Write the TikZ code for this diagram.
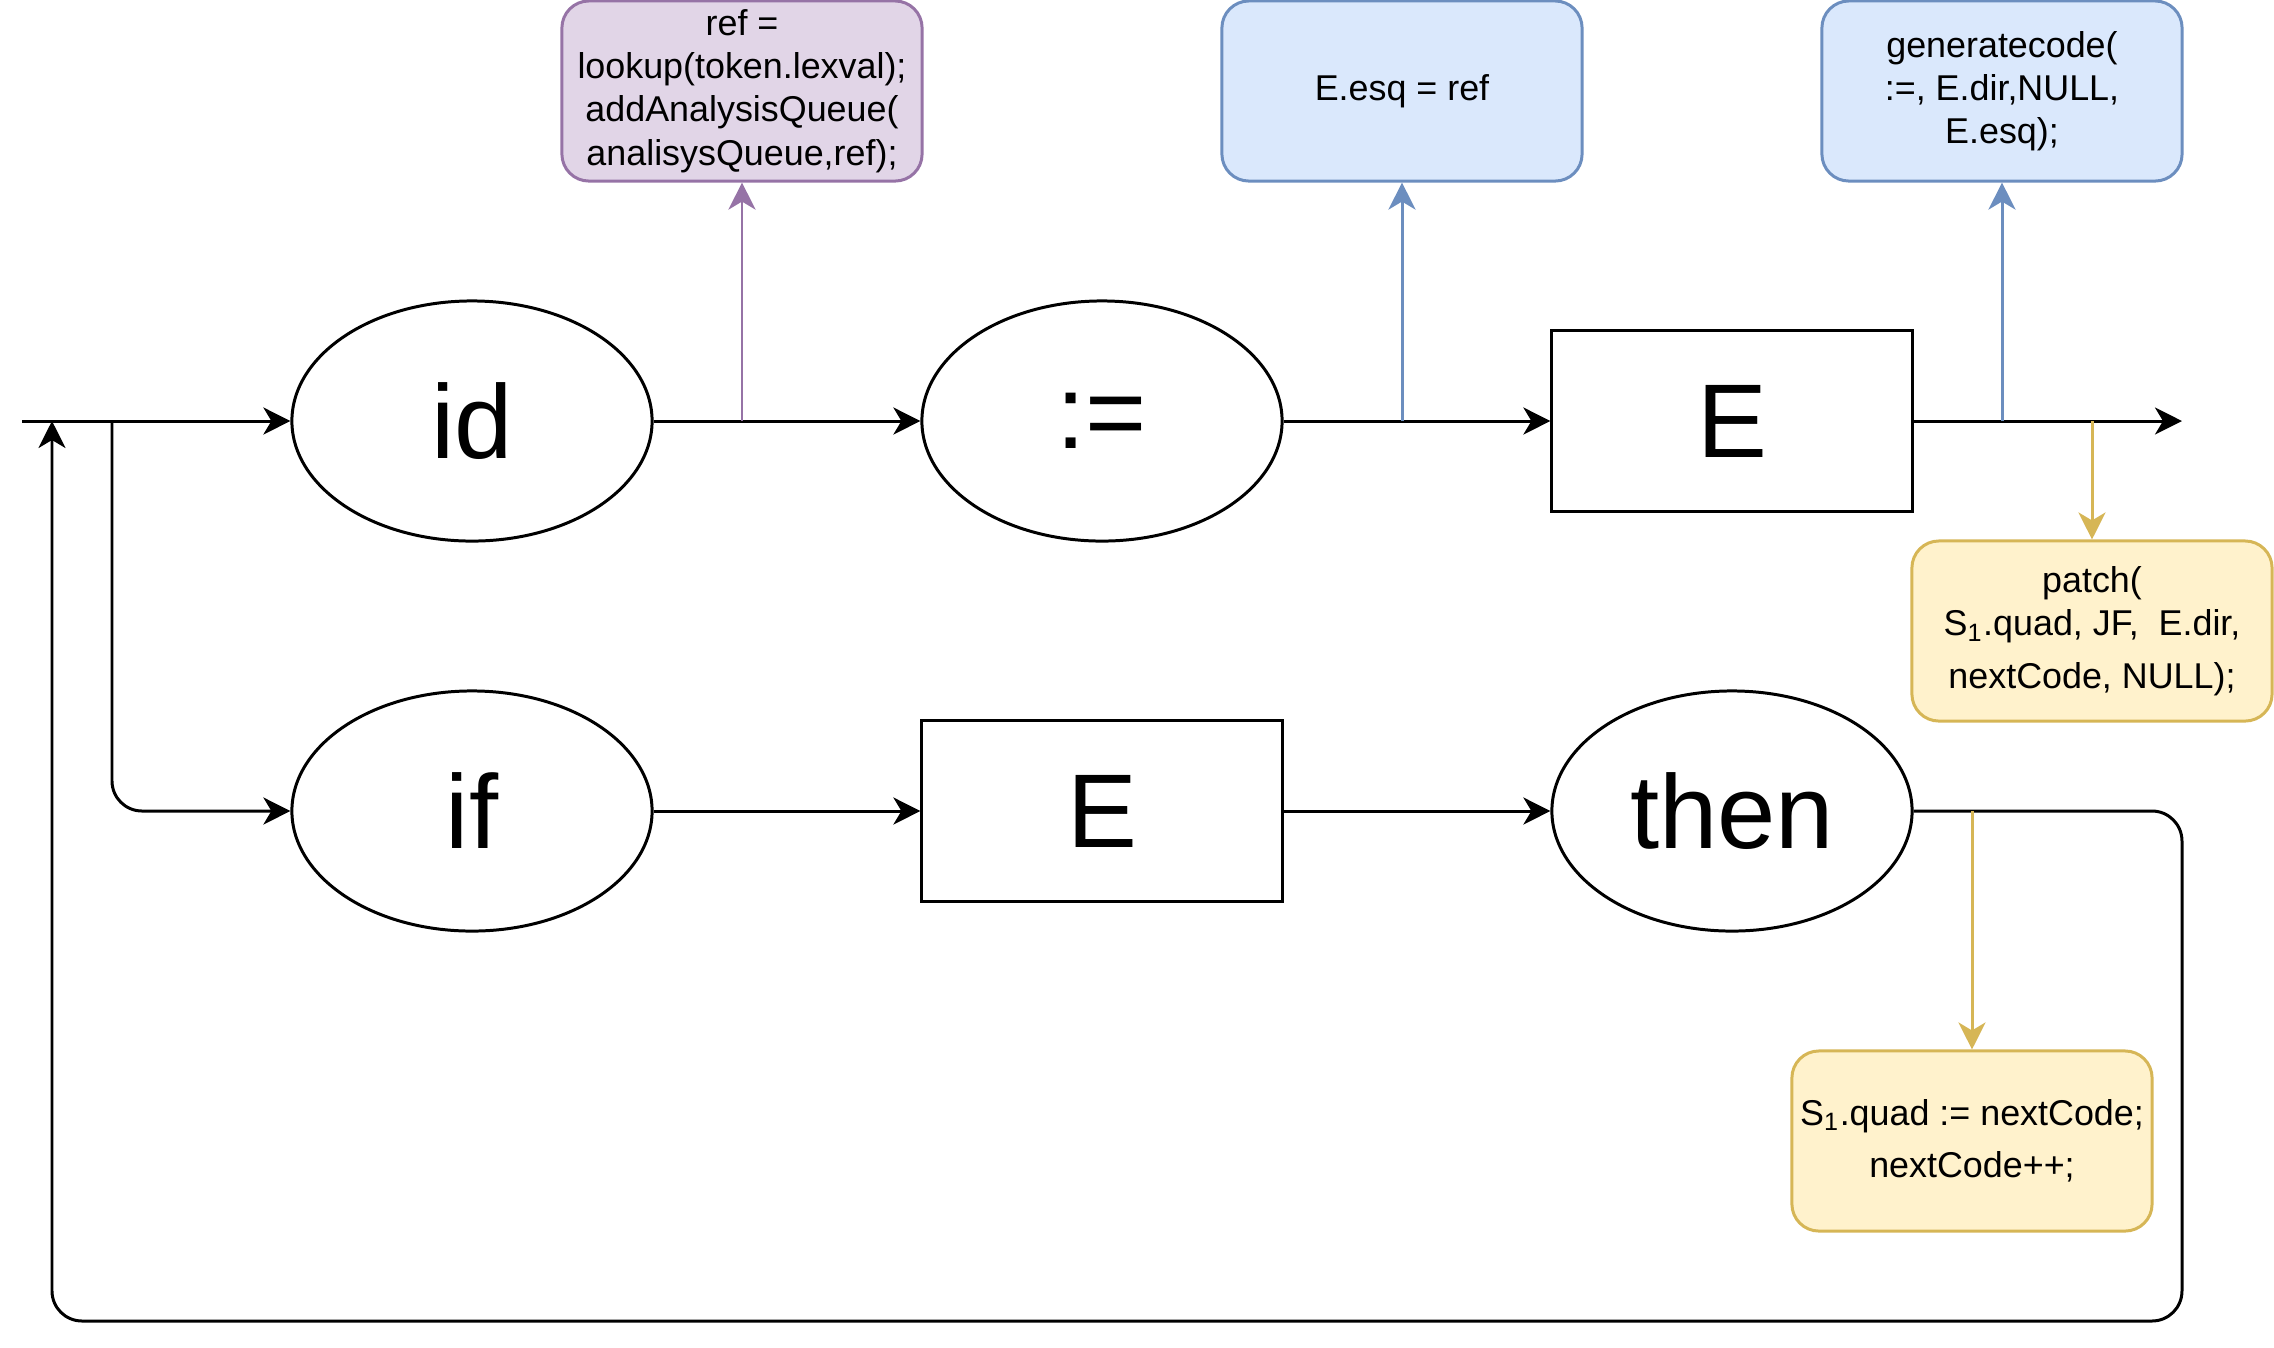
\documentclass[tikz,border=0pt]{standalone}
\usepackage{fontspec}
\setmainfont{Liberation Sans}
\usetikzlibrary{shapes.geometric,arrows.meta}
\definecolor{purpfill}{HTML}{E1D5E7}
\definecolor{purpline}{HTML}{9673A6}
\definecolor{bluefill}{HTML}{DAE8FC}
\definecolor{blueline}{HTML}{6C8EBF}
\definecolor{yelfill}{HTML}{FFF2CC}
\definecolor{yelline}{HTML}{D6B656}
\tikzset{
  tok/.style={draw,ellipse,minimum width=3.6cm,minimum height=2.4cm,inner sep=0pt,font=\fontsize{29.8}{36}\selectfont},
  nonterm/.style={draw,minimum width=3.6cm,minimum height=1.8cm,inner sep=0pt,font=\fontsize{29.8}{36}\selectfont},
  action/.style={draw,rounded corners=0.27cm,minimum width=3.6cm,minimum height=1.8cm,inner sep=0pt,align=center,font=\fontsize{10.2}{12.3}\selectfont},
  flow/.style={-{Stealth[length=0.27cm,width=0.27cm,inset=0.08cm]}},
}
\begin{document}
\begin{tikzpicture}[x=0.01cm,y=-0.01cm,line width=0.85pt]
  \useasboundingbox (0,0) rectangle (2274,1347);
  \node[tok] (id) at (472,421) {id};
  \node[tok] (assign) at (1102,421) {:=};
  \node[nonterm] (E1) at (1732,421) {E};
  \node[tok] (if) at (472,811) {if};
  \node[nonterm] (E2) at (1102,811) {E};
  \node[tok] (then) at (1732,811) {then};
  \node[action,fill=purpfill,draw=purpline] (look) at (742,91) {ref =\\lookup(token.lexval);\\addAnalysisQueue(\\analisysQueue,ref);};
  \node[action,fill=bluefill,draw=blueline] (esq) at (1402,91) {E.esq = ref};
  \node[action,fill=bluefill,draw=blueline] (gen) at (2002,91) {generatecode(\\:=, E.dir,NULL,\\E.esq);};
  \node[action,fill=yelfill,draw=yelline] (patch) at (2092,631) {patch(\\S\textsubscript{1}.quad, JF,~ E.dir,\\[0.09cm]nextCode, NULL);};
  \node[action,fill=yelfill,draw=yelline] (quad) at (1972,1141) {S\textsubscript{1}.quad := nextCode;\\[0.09cm]nextCode++;};
  \coordinate (start) at (22,421);
  \coordinate (split) at (112,421);
  \coordinate (back) at (52,421);
  \coordinate (exit) at (2182,421);
  \draw[flow] (start) -- (id);
  \draw[flow,rounded corners=0.3cm] (split) |- (if);
  \draw[flow] (id) -- (assign);
  \draw[flow] (assign) -- (E1);
  \draw[flow] (E1) -- (exit);
  \draw[flow] (if) -- (E2);
  \draw[flow] (E2) -- (then);
  \draw[flow,rounded corners=0.3cm] (then.east) -- (exit |- then) -- (2182,1321) -| (back);
  \draw[flow,purpline] (look |- id) -- (look);
  \draw[flow,blueline] (esq |- id) -- (esq);
  \draw[flow,blueline] (gen |- id) -- (gen);
  \draw[flow,yelline] (patch |- E1) -- (patch);
  \draw[flow,yelline] (quad |- then) -- (quad);
\end{tikzpicture}
\end{document}
